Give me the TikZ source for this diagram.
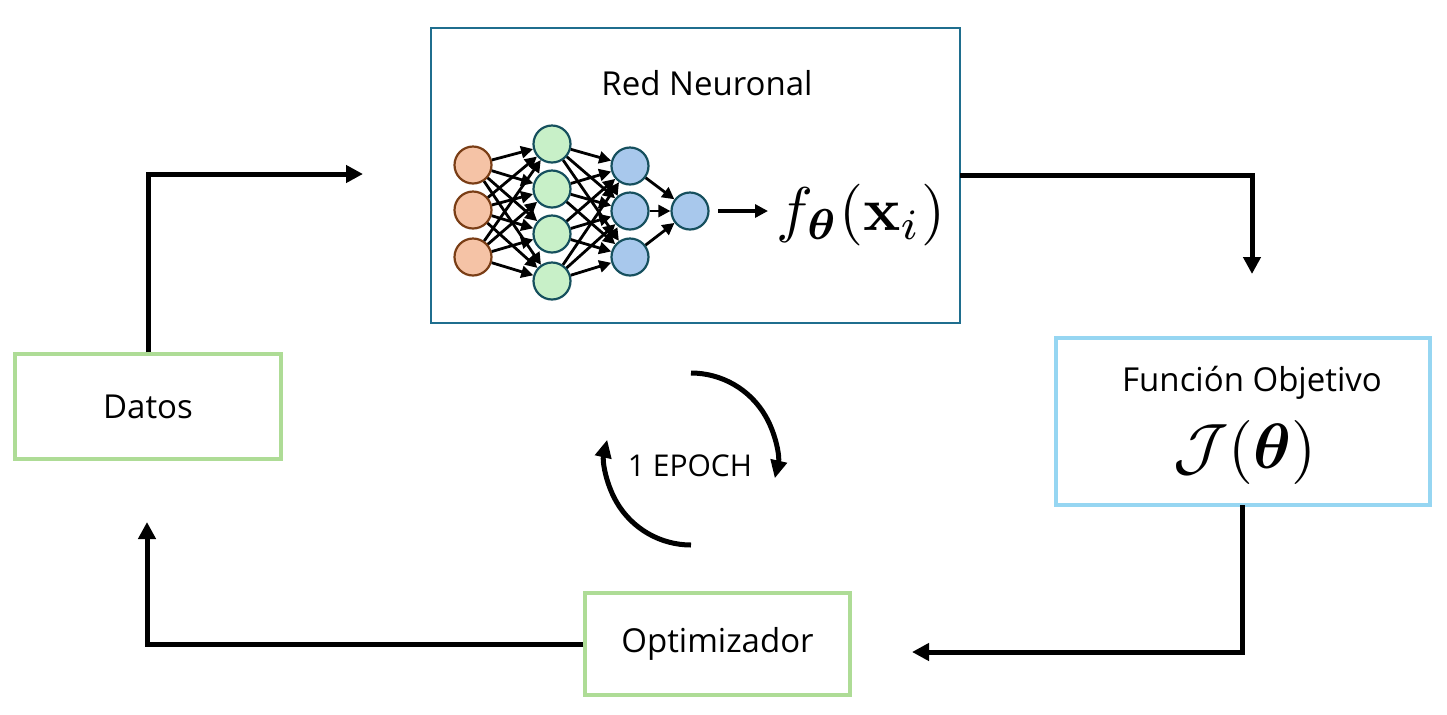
\documentclass[tikz,border=0pt]{standalone}
\usepackage{amsmath,bm,graphicx}
\usepackage[no-math]{fontspec}
\newfontfamily\lblfont{Open Sans}
\usetikzlibrary{arrows.meta,calc}
\definecolor{nnbox}{HTML}{1F6E8E}
\definecolor{grbox}{HTML}{AEDC96}
\definecolor{bluebox}{HTML}{96D6F2}
\definecolor{inFill}{HTML}{F5C3A6}
\definecolor{inDraw}{HTML}{7A3E16}
\definecolor{hFill}{HTML}{C8F0C8}
\definecolor{hDraw}{HTML}{16505E}
\definecolor{bFill}{HTML}{A8C8EC}
\tikzset{
  lbl/.style={font=\lblfont\fontsize{16.5}{19}\selectfont, text=black},
  flow/.style={line width=2.5pt, -{Triangle[length=8.5pt,width=8.5pt]}},
  epocharrow/.style={line width=2.5pt, -{Triangle[length=9pt,width=8pt]}},
  neuron/.style={circle, minimum size=18.5pt, inner sep=0pt, line width=1.1pt},
  inneuron/.style={neuron, fill=inFill, draw=inDraw},
  hneuron/.style={neuron, fill=hFill, draw=hDraw},
  bneuron/.style={neuron, fill=bFill, draw=hDraw},
  syn/.style={line width=1.4pt, -{Triangle[length=6pt,width=6pt]}},
}
\begin{document}
\begin{tikzpicture}[x=0.5pt,y=-0.5pt]
\useasboundingbox (0,0) rectangle (1447,714);
% boxes
\draw[nnbox, line width=1.1pt] (431,28) rectangle (960,323);
\coordinate (nnE) at (960,175);
\node[lbl] (nntitle) at (707,83) {Red Neuronal};
\node[draw=grbox, line width=1.6pt, minimum width=133pt, minimum height=52.5pt, lbl] (datos) at (148,406.5) {Datos};
\node[draw=bluebox, line width=2pt, minimum width=187pt, minimum height=83.5pt] (func) at (1243,421.5) {};
\node[lbl] (functxt) at (1252,383) {Función Objetivo};
\node (jtheta) at (1245,452) {\resizebox{71.5pt}{!}{$\mathcal{J}(\bm{\theta})$}};
\node[draw=grbox, line width=1.6pt, minimum width=132.5pt, minimum height=51pt, lbl] (optim) at (717.5,644) {Optimizador};
% neural network
\foreach \y [count=\i] in {165,210,257} \node[inneuron] (i\i) at (473,\y) {};
\foreach \y [count=\i] in {144,189,234,281} \node[hneuron] (h\i) at (552,\y) {};
\foreach \y [count=\i] in {166,211,257} \node[bneuron] (b\i) at (630,\y) {};
\node[bneuron] (o) at (690,211) {};
\foreach \a in {1,2,3} \foreach \b in {1,2,3,4} \draw[syn] (i\a) -- (h\b);
\foreach \a in {1,2,3,4} \foreach \b in {1,2,3} \draw[syn] (h\a) -- (b\b);
\foreach \a in {1,2,3} \draw[syn] (b\a) -- (o);
\node (fx) at (861,215) {\resizebox{84pt}{!}{$f_{\bm{\theta}}(\mathbf{x}_i)$}};
\coordinate (oarr) at (768,211);
\draw[line width=1.6pt, -{Triangle[length=6.5pt,width=6.5pt]}] (718,211) -- (oarr);
% flow arrows
\coordinate (c1) at (363,174);
\draw[flow] (datos.north) |- (c1);
\coordinate (c2) at (1252,274);
\draw[flow] (nnE) -| (c2);
\coordinate (fs) at (1242,505);
\coordinate (c3) at (912,652);
\draw[flow] (fs) |- (c3);
\coordinate (c4) at (147,522);
\draw[flow] (optim.west) -| (c4);
% epoch cycle
\coordinate (ec) at (691,459);
\draw[epocharrow] ($(ec)+(-90:86)$) arc[start angle=-90, end angle=13, radius=86];
\draw[epocharrow] ($(ec)+(90:86)$) arc[start angle=90, end angle=193, radius=86];
\node[font=\lblfont\fontsize{15}{18}\selectfont] (epoch) at (690,466) {1 EPOCH};
\end{tikzpicture}
\end{document}
